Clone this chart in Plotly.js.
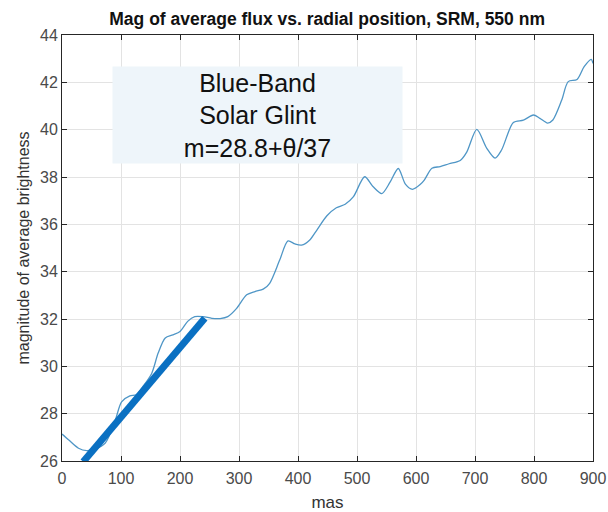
<!DOCTYPE html>
<html>
<head>
<meta charset="utf-8">
<script src="https://cdn.plot.ly/plotly-3.0.1.min.js"></script>
<style>
  html, body { margin: 0; padding: 0; background: #fff; }
  #chart { width: 608px; height: 512px; }
</style>
</head>
<body>
<div id="chart"></div>
<script>
// Radial position (mas) and magnitude of average brightness
const radialMas = [0, 11, 28, 42, 55, 73, 90, 101, 115, 126, 137, 152, 163, 175, 188, 200, 213, 225, 239, 254, 268, 281, 296, 313, 327, 341, 352, 369, 383, 395, 406, 420, 432, 449, 465, 480, 494, 513, 527, 542, 556, 570, 582, 594, 607, 614, 627, 641, 656, 675, 686, 703, 720, 734, 745, 765, 782, 799, 810, 823, 832, 847, 858, 873, 885, 897, 900];
const magnitude = [27.14, 26.9, 26.54, 26.44, 26.5, 26.75, 27.7, 28.5, 28.75, 28.8, 29.14, 29.7, 30.56, 31.2, 31.33, 31.47, 31.9, 32.1, 32.1, 32.03, 32.02, 32.1, 32.45, 33.02, 33.16, 33.26, 33.51, 34.49, 35.3, 35.17, 35.12, 35.34, 35.76, 36.36, 36.7, 36.85, 37.17, 38.01, 37.6, 37.3, 37.78, 38.36, 37.7, 37.48, 37.68, 37.87, 38.37, 38.44, 38.56, 38.7, 39.05, 40.01, 39.21, 38.8, 39.14, 40.3, 40.4, 40.62, 40.48, 40.28, 40.41, 41.25, 42.03, 42.12, 42.66, 42.97, 42.8];

// Linear fit drawn over the inner region
const fitMas = [36, 242];
const fitMag = [25.97, 32.03];

// Axis ticks
const xTicks = [0, 100, 200, 300, 400, 500, 600, 700, 800, 900];
const yTicks = [26, 28, 30, 32, 34, 36, 38, 40, 42, 44];

const noteLines = ['Blue-Band', 'Solar Glint', 'm=28.8+\u03B8/37'];

const fontFamily = 'Liberation Sans, Arial, sans-serif';
const axisColor = '#262626';
const gridColor = '#e3e3e3';
const tickFont = { family: fontFamily, size: 16, color: '#4a4a4a' };

const traces = [
  {
    x: radialMas, y: magnitude, type: 'scatter', mode: 'lines',
    line: { color: '#4f96c6', width: 1.3, shape: 'spline', smoothing: 0.8 },
    hoverinfo: 'skip'
  },
  {
    x: fitMas, y: fitMag, type: 'scatter', mode: 'lines',
    line: { color: '#0a70c2', width: 7 },
    hoverinfo: 'skip'
  }
];

const axisCommon = {
  showline: true, linecolor: axisColor, linewidth: 1,
  mirror: 'ticks', ticks: 'inside', ticklen: 5, tickcolor: axisColor,
  showgrid: true, gridcolor: gridColor, gridwidth: 1,
  zeroline: false, tickfont: tickFont
};

const layout = {
  width: 608, height: 512,
  margin: { l: 62, r: 15, t: 35, b: 51 },
  paper_bgcolor: '#ffffff', plot_bgcolor: '#ffffff',
  showlegend: false,
  title: {
    text: '<b>Mag of average flux vs. radial position, SRM, 550 nm</b>',
    font: { family: fontFamily, size: 17.5, color: '#111' },
    x: 0.538, xanchor: 'center', y: 0.963, yanchor: 'middle'
  },
  xaxis: Object.assign({}, axisCommon, {
    range: [0, 900], tickvals: xTicks, ticktext: xTicks.map(String),
    ticklabelstandoff: 3,
    title: { text: 'mas', standoff: 10, font: { family: fontFamily, size: 17, color: '#333' } }
  }),
  yaxis: Object.assign({}, axisCommon, {
    range: [26, 44], tickvals: yTicks, ticktext: yTicks.map(String),
    title: { text: 'magnitude of average brightness', standoff: 6, font: { family: fontFamily, size: 16, color: '#333' } }
  }),
  annotations: [{
    xref: 'x', yref: 'y', x: 331, y: 40.63,
    text: noteLines.join('<br>'),
    showarrow: false,
    font: { family: fontFamily, size: 25, color: '#111' },
    align: 'center',
    bgcolor: '#eef5fa',
    width: 285, height: 92,
    borderpad: 2
  }]
};

Plotly.newPlot('chart', traces, layout, { displayModeBar: false, staticPlot: true });
</script>
</body>
</html>
